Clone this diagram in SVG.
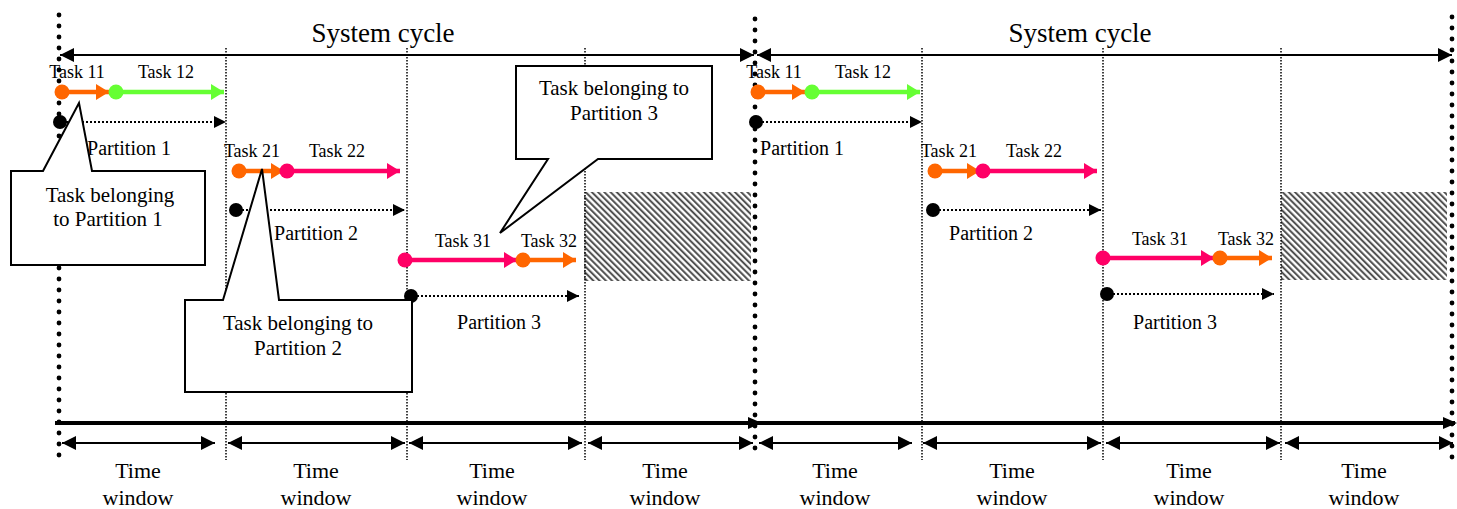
<svg xmlns="http://www.w3.org/2000/svg" width="1457" height="509" viewBox="0 0 1457 509">
  <style>
    text { font-family: "Liberation Serif", "Times New Roman", serif; fill: #000; text-anchor: middle; }
    .cycle-label { font-size: 27px; }
    .task-label { font-size: 18px; }
    .part-label { font-size: 20px; }
    .win-label { font-size: 22px; }
    .call-label { font-size: 21px; }
    .cycle-bound { stroke: #000; stroke-width: 4.8; stroke-linecap: round; stroke-dasharray: 0 11; fill: none; }
    .win-bound { stroke: #000; stroke-width: 1.5; stroke-dasharray: 1.5 1.5; fill: none; }
    .span { stroke: #000; stroke-width: 2; fill: none; }
    .axis { stroke: #000; stroke-width: 4; fill: none; }
    .part-arrow { stroke: #000; stroke-width: 2; stroke-dasharray: 2 2; fill: none; }
    .t-orange { stroke: #FF6600; stroke-width: 4.5; fill: none; }
    .t-green { stroke: #66FF33; stroke-width: 4.5; fill: none; }
    .t-pink { stroke: #FF0066; stroke-width: 4.5; fill: none; }
    .callout { fill: #fff; stroke: #000; stroke-width: 2; stroke-linejoin: miter; }
    .idle { fill: url(#hatch); }
  </style>
  <defs>
    <marker id="head-black" markerUnits="userSpaceOnUse" markerWidth="14" markerHeight="14" refX="14" refY="7" orient="auto-start-reverse">
      <path d="M0,0 L14,7 L0,14 z" fill="#000"/>
    </marker>
    <marker id="head-small" markerUnits="userSpaceOnUse" markerWidth="12" markerHeight="14" refX="12" refY="7" orient="auto">
      <path d="M0,1 L12,7 L0,13 z" fill="#000"/>
    </marker>
    <marker id="head-axis" markerUnits="userSpaceOnUse" markerWidth="14" markerHeight="14" refX="12" refY="7" orient="auto">
      <path d="M0,1 L14,7 L0,13 z" fill="#000"/>
    </marker>
    <marker id="head-orange" markerUnits="userSpaceOnUse" markerWidth="13" markerHeight="16" refX="13" refY="8" orient="auto">
      <path d="M0,0 L13,8 L0,16 z" fill="#FF6600"/>
    </marker>
    <marker id="head-green" markerUnits="userSpaceOnUse" markerWidth="13" markerHeight="16" refX="13" refY="8" orient="auto">
      <path d="M0,0 L13,8 L0,16 z" fill="#66FF33"/>
    </marker>
    <marker id="head-pink" markerUnits="userSpaceOnUse" markerWidth="13" markerHeight="16" refX="13" refY="8" orient="auto">
      <path d="M0,0 L13,8 L0,16 z" fill="#FF0066"/>
    </marker>
    <pattern id="hatch" patternUnits="userSpaceOnUse" width="4.4" height="4.4" patternTransform="rotate(-45)">
      <rect width="4.4" height="4.4" fill="#fff"/>
      <line x1="1.1" y1="0" x2="1.1" y2="4.4" stroke="#444" stroke-width="1.9"/>
    </pattern>
  </defs>

  <!-- idle time at the end of each cycle -->
  <g id="idle-slots">
    <rect class="idle" x="584" y="192" width="167" height="89"/>
    <rect class="idle" x="1281" y="192" width="166" height="88"/>
  </g>

  <!-- window boundaries -->
  <g id="boundaries">
    <line class="win-bound" x1="226" y1="48" x2="226" y2="460"/>
    <line class="win-bound" x1="407" y1="48" x2="407" y2="460"/>
    <line class="win-bound" x1="585" y1="48" x2="585" y2="460"/>
    <line class="win-bound" x1="922" y1="48" x2="922" y2="460"/>
    <line class="win-bound" x1="1103" y1="48" x2="1103" y2="460"/>
    <line class="win-bound" x1="1281" y1="48" x2="1281" y2="460"/>
    <line class="cycle-bound" x1="59" y1="15" x2="59" y2="458"/>
    <line class="cycle-bound" x1="755" y1="19" x2="755" y2="458"/>
    <line class="cycle-bound" x1="1452" y1="17" x2="1452" y2="458"/>
  </g>

  <!-- cycle labels -->
  <g id="cycle-1"><text class="cycle-label" x="383" y="42">System cycle</text></g>
  <g id="cycle-2"><text class="cycle-label" x="1080" y="42">System cycle</text></g>

  <g id="connectors">
    <!-- system cycle spans -->
    <line class="span" x1="60" y1="55" x2="754" y2="55" marker-start="url(#head-black)" marker-end="url(#head-black)"/>
    <line class="span" x1="757" y1="55" x2="1452" y2="55" marker-start="url(#head-black)" marker-end="url(#head-black)"/>

    <!-- cycle 1 tasks -->
    <line class="t-orange" x1="62" y1="92" x2="109" y2="92" marker-end="url(#head-orange)"/>
    <line class="t-green" x1="116" y1="92" x2="224" y2="92" marker-end="url(#head-green)"/>
    <line class="t-orange" x1="239" y1="171" x2="284" y2="171" marker-end="url(#head-orange)"/>
    <line class="t-pink" x1="287" y1="171" x2="400" y2="171" marker-end="url(#head-pink)"/>
    <line class="t-pink" x1="405" y1="260" x2="517" y2="260" marker-end="url(#head-pink)"/>
    <line class="t-orange" x1="523" y1="260" x2="576" y2="260" marker-end="url(#head-orange)"/>

    <!-- cycle 2 tasks -->
    <line class="t-orange" x1="758" y1="92" x2="805" y2="92" marker-end="url(#head-orange)"/>
    <line class="t-green" x1="812" y1="92" x2="920" y2="92" marker-end="url(#head-green)"/>
    <line class="t-orange" x1="935" y1="171" x2="980" y2="171" marker-end="url(#head-orange)"/>
    <line class="t-pink" x1="983" y1="171" x2="1097" y2="171" marker-end="url(#head-pink)"/>
    <line class="t-pink" x1="1103" y1="258" x2="1214" y2="258" marker-end="url(#head-pink)"/>
    <line class="t-orange" x1="1220" y1="258" x2="1272" y2="258" marker-end="url(#head-orange)"/>

    <!-- partition spans -->
    <line class="part-arrow" x1="66" y1="122" x2="226" y2="122" marker-end="url(#head-small)"/>
    <line class="part-arrow" x1="242" y1="210" x2="405" y2="210" marker-end="url(#head-small)"/>
    <line class="part-arrow" x1="417" y1="296" x2="579" y2="296" marker-end="url(#head-small)"/>
    <line class="part-arrow" x1="762" y1="122" x2="922" y2="122" marker-end="url(#head-small)"/>
    <line class="part-arrow" x1="939" y1="210" x2="1101" y2="210" marker-end="url(#head-small)"/>
    <line class="part-arrow" x1="1113" y1="294" x2="1274" y2="294" marker-end="url(#head-small)"/>

    <!-- time axis -->
    <line class="axis" x1="55" y1="423" x2="760" y2="423" marker-end="url(#head-axis)"/>
    <line class="axis" x1="755" y1="423" x2="1455" y2="423" marker-end="url(#head-axis)"/>

    <!-- time windows -->
    <line class="span" x1="62" y1="443" x2="215" y2="443" marker-start="url(#head-black)" marker-end="url(#head-black)"/>
    <line class="span" x1="228" y1="443" x2="405" y2="443" marker-start="url(#head-black)" marker-end="url(#head-black)"/>
    <line class="span" x1="409" y1="443" x2="582" y2="443" marker-start="url(#head-black)" marker-end="url(#head-black)"/>
    <line class="span" x1="588" y1="443" x2="753" y2="443" marker-start="url(#head-black)" marker-end="url(#head-black)"/>
    <line class="span" x1="759" y1="443" x2="912" y2="443" marker-start="url(#head-black)" marker-end="url(#head-black)"/>
    <line class="span" x1="923" y1="443" x2="1101" y2="443" marker-start="url(#head-black)" marker-end="url(#head-black)"/>
    <line class="span" x1="1106" y1="443" x2="1280" y2="443" marker-start="url(#head-black)" marker-end="url(#head-black)"/>
    <line class="span" x1="1285" y1="443" x2="1453" y2="443" marker-start="url(#head-black)" marker-end="url(#head-black)"/>
  </g>

  <!-- tasks, cycle 1 -->
  <g id="task-11"><circle cx="62" cy="92" r="7.5" fill="#FF6600"/><text class="task-label" x="77" y="78">Task 11</text></g>
  <g id="task-12"><circle cx="116" cy="92" r="7.5" fill="#66FF33"/><text class="task-label" x="166" y="78">Task 12</text></g>
  <g id="task-21"><circle cx="239" cy="171" r="7.5" fill="#FF6600"/><text class="task-label" x="252" y="157">Task 21</text></g>
  <g id="task-22"><circle cx="287" cy="171" r="7.5" fill="#FF0066"/><text class="task-label" x="337" y="157">Task 22</text></g>
  <g id="task-31"><circle cx="405" cy="260" r="7.5" fill="#FF0066"/><text class="task-label" x="463" y="247">Task 31</text></g>
  <g id="task-32"><circle cx="523" cy="260" r="7.5" fill="#FF6600"/><text class="task-label" x="549" y="247">Task 32</text></g>

  <!-- tasks, cycle 2 -->
  <g id="task-11b"><circle cx="758" cy="92" r="7.5" fill="#FF6600"/><text class="task-label" x="774" y="78">Task 11</text></g>
  <g id="task-12b"><circle cx="812" cy="92" r="7.5" fill="#66FF33"/><text class="task-label" x="863" y="78">Task 12</text></g>
  <g id="task-21b"><circle cx="935" cy="171" r="7.5" fill="#FF6600"/><text class="task-label" x="949" y="157">Task 21</text></g>
  <g id="task-22b"><circle cx="983" cy="171" r="7.5" fill="#FF0066"/><text class="task-label" x="1034" y="157">Task 22</text></g>
  <g id="task-31b"><circle cx="1103" cy="258" r="7.5" fill="#FF0066"/><text class="task-label" x="1160" y="245">Task 31</text></g>
  <g id="task-32b"><circle cx="1220" cy="258" r="7.5" fill="#FF6600"/><text class="task-label" x="1246" y="245">Task 32</text></g>

  <!-- partitions -->
  <g id="partition-1"><circle cx="60" cy="122" r="7" fill="#000"/><text class="part-label" x="129" y="155">Partition 1</text></g>
  <g id="partition-2"><circle cx="236" cy="210" r="7" fill="#000"/><text class="part-label" x="316" y="240">Partition 2</text></g>
  <g id="partition-3"><circle cx="411" cy="296" r="7" fill="#000"/><text class="part-label" x="499" y="329">Partition 3</text></g>
  <g id="partition-1b"><circle cx="756" cy="122" r="7" fill="#000"/><text class="part-label" x="802" y="155">Partition 1</text></g>
  <g id="partition-2b"><circle cx="933" cy="210" r="7" fill="#000"/><text class="part-label" x="991" y="240">Partition 2</text></g>
  <g id="partition-3b"><circle cx="1107" cy="294" r="7" fill="#000"/><text class="part-label" x="1175" y="329">Partition 3</text></g>

  <!-- callouts -->
  <g id="callout-1">
    <path class="callout" d="M11,171 L43,171 L79,103 L92,171 L205,171 L205,265 L11,265 Z"/>
    <text class="call-label" x="110" y="202">Task belonging</text>
    <text class="call-label" x="108" y="226">to Partition 1</text>
  </g>
  <g id="callout-2">
    <path class="callout" d="M185,300 L223,300 L262,169 L279,300 L412,300 L412,392 L185,392 Z"/>
    <text class="call-label" x="298" y="330">Task belonging to</text>
    <text class="call-label" x="298" y="355">Partition 2</text>
  </g>
  <g id="callout-3">
    <path class="callout" d="M516,66 L712,66 L712,159 L598,159 L500,233 L548,159 L516,159 Z"/>
    <text class="call-label" x="614" y="95">Task belonging to</text>
    <text class="call-label" x="614" y="120">Partition 3</text>
  </g>

  <!-- time window labels -->
  <g id="windows">
    <text class="win-label" x="138" y="478">Time</text><text class="win-label" x="138" y="505">window</text>
    <text class="win-label" x="316" y="478">Time</text><text class="win-label" x="316" y="505">window</text>
    <text class="win-label" x="492" y="478">Time</text><text class="win-label" x="492" y="505">window</text>
    <text class="win-label" x="665" y="478">Time</text><text class="win-label" x="665" y="505">window</text>
    <text class="win-label" x="835" y="478">Time</text><text class="win-label" x="835" y="505">window</text>
    <text class="win-label" x="1012" y="478">Time</text><text class="win-label" x="1012" y="505">window</text>
    <text class="win-label" x="1189" y="478">Time</text><text class="win-label" x="1189" y="505">window</text>
    <text class="win-label" x="1364" y="478">Time</text><text class="win-label" x="1364" y="505">window</text>
  </g>
</svg>
